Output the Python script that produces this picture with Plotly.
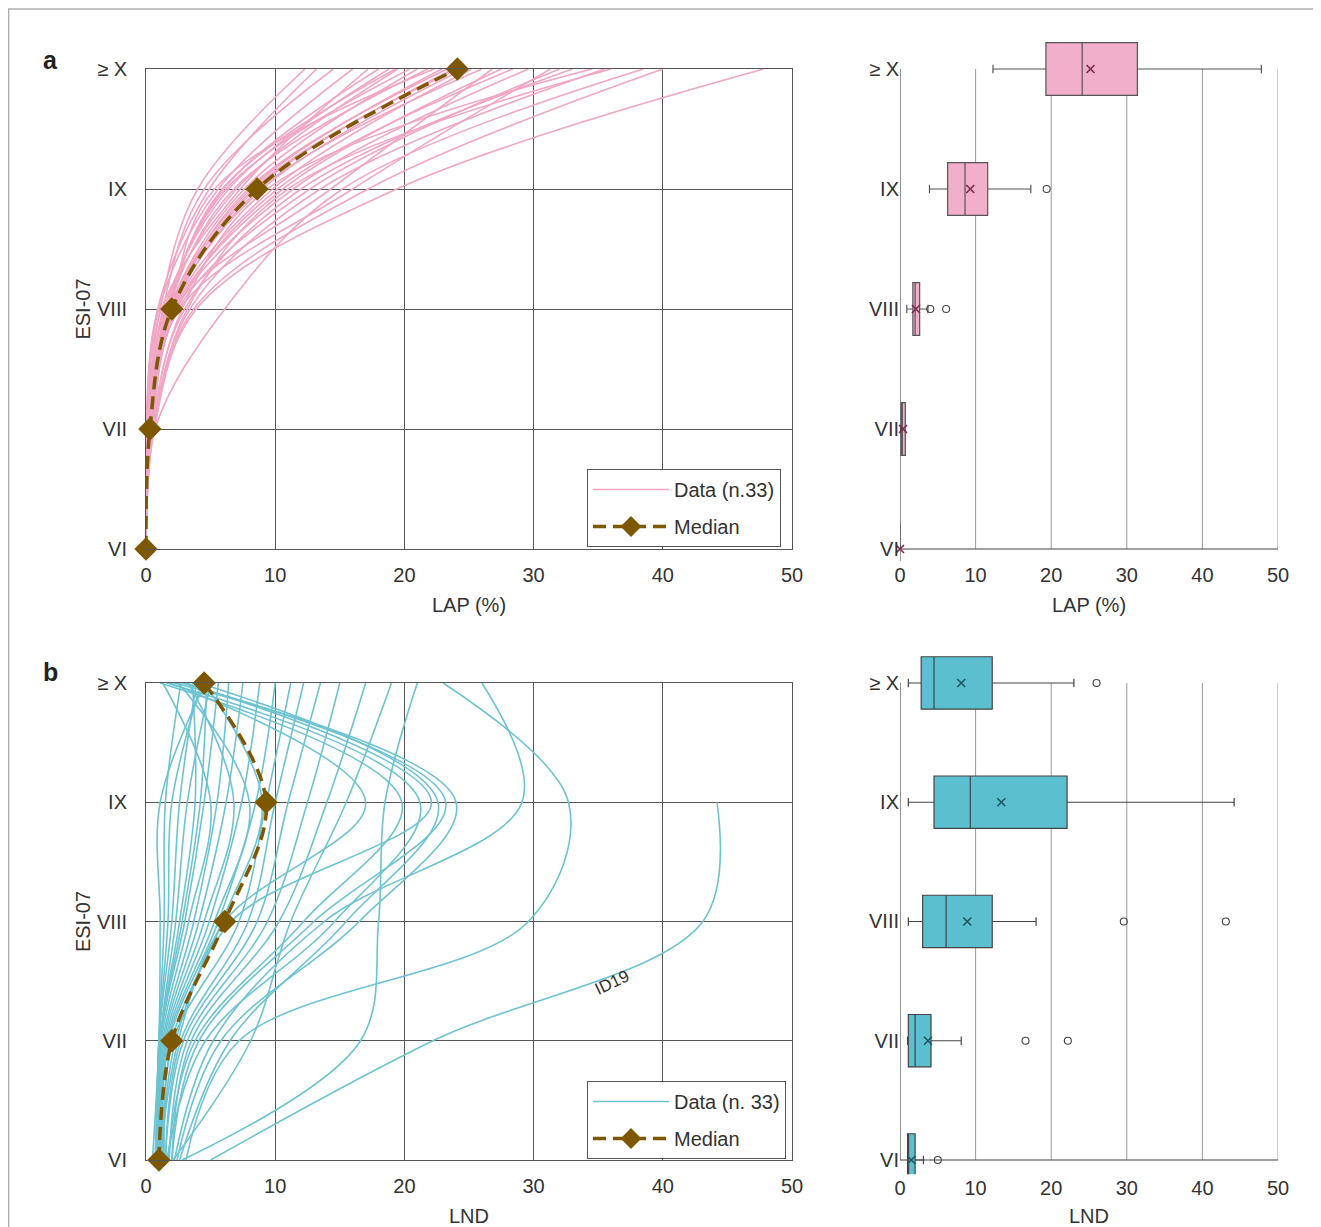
import plotly.graph_objects as go

# ---------------- data ----------------
level_labels = ['VI', 'VII', 'VIII', 'IX', '≥ X']
level_pos = [0, 1, 2, 3, 4]

# LAP (%) per curve at each ESI-07 level (index = event)
lap_VI = [0.0, 0.0, 0.0, 0.0, 0.0, 0.0, 0.0, 0.0, 0.0, 0.0, 0.0, 0.0, 0.0, 0.0, 0.0, 0.0, 0.0,
          0.0, 0.0, 0.0, 0.0, 0.0, 0.0, 0.0, 0.0, 0.0, 0.0, 0.0, 0.0, 0.0, 0.0, 0.0, 0.0]
lap_VII = [0.05, 0.0, 0.1, 0.0, 0.1, 0.2, 0.1, 0.2, 0.15, 0.2, 0.25, 0.2, 0.3, 0.25, 0.3, 0.3, 0.3,
           0.3, 0.35, 0.35, 0.4, 0.4, 0.45, 0.4, 0.5, 0.45, 0.5, 0.5, 0.6, 0.55, 0.7, 0.6, 0.65]
lap_VIII = [1.1, 0.9, 1.3, 1.0, 1.2, 1.6, 1.4, 1.7, 1.5, 1.6, 1.8, 1.7, 1.9, 1.8, 2.0, 1.9, 2.0,
            2.0, 2.1, 2.1, 2.2, 2.2, 2.4, 2.3, 2.6, 2.5, 3.0, 2.8, 3.4, 3.2, 6.1, 3.7, 3.9]
lap_IX = [4.0, 4.9, 4.5, 5.6, 7.3, 6.0, 6.4, 5.9, 7.0, 6.2, 7.6, 6.8, 5.3, 8.1, 7.9, 8.5, 8.3,
          9.0, 9.8, 8.8, 14.3, 10.6, 10.2, 11.4, 16.0, 12.7, 12.0, 9.4, 13.5, 11.0, 15.2, 17.2, 19.4]
lap_X = [12.3, 13.2, 14.5, 16.0, 17.2, 18.0, 18.8, 19.3, 19.5, 20.4, 21.0, 21.8, 22.3, 22.9, 23.3, 23.8, 24.1,
         24.6, 25.2, 26.0, 26.8, 27.5, 28.4, 29.6, 31.3, 32.0, 33.0, 34.5, 35.5, 36.0, 38.5, 40.0, 47.8]

# LND per curve at each level (first curve = ID19, no value at >= X)
lnd_VI = [5.0, 3.1, 2.2, 2.8, 2.4, 1.6, 2.0, 1.7, 2.6, 1.3, 1.1, 2.1, 2.0, 1.8, 1.5, 1.5, 1.4,
          1.4, 1.3, 1.3, 1.2, 1.2, 1.2, 1.1, 1.1, 1.1, 1.0, 1.0, 1.0, 0.9, 0.8, 0.7, 0.5]
lnd_VII = [22.2, 7.2, 5.2, 16.6, 5.8, 4.6, 4.1, 3.8, 6.5, 2.3, 2.5, 8.1, 3.5, 3.2, 2.9, 2.7, 2.1,
           2.0, 1.8, 1.7, 1.6, 1.5, 1.4, 1.3, 1.2, 1.1, 1.1, 1.1, 1.1, 1.0, 1.0, 1.0, 1.0]
lnd_VIII = [43.1, 29.6, 13.8, 18.0, 16.5, 14.6, 13.0, 12.2, 15.5, 6.6, 6.1, 11.2, 10.3, 9.4, 8.6, 7.9, 7.2,
            5.9, 5.6, 5.3, 4.9, 4.5, 4.1, 3.7, 3.3, 3.0, 2.8, 2.6, 2.3, 2.0, 1.7, 1.4, 1.1]
lnd_IX = [44.2, 32.7, 29.1, 18.5, 24.0, 21.2, 23.2, 19.8, 22.6, 22.1, 17.0, 15.5, 14.0, 12.5, 11.0, 10.0, 9.3,
          9.0, 8.5, 8.0, 7.4, 6.8, 6.2, 5.5, 5.0, 4.5, 4.2, 3.8, 3.2, 2.6, 2.0, 1.5, 1.1]
lnd_X = [None, 23.0, 26.0, 21.0, 2.2, 1.6, 2.8, 1.1, 4.1, 3.0, 1.9, 19.0, 17.0, 15.0, 13.5, 12.2, 11.2,
         4.5, 10.0, 2.5, 8.8, 3.3, 7.5, 6.4, 1.3, 5.6, 4.7, 3.6, 5.0, 3.9, 4.3, 2.7, 4.6]

# box statistics (order VI, VII, VIII, IX, >= X)
lap_lowerfence = [0.0, 0.0, 0.9, 3.9, 12.3]
lap_q1 = [0.0, 0.15, 1.7, 6.3, 19.3]
lap_median = [0.0, 0.3, 2.0, 8.6, 24.1]
lap_q3 = [0.0, 0.7, 2.6, 11.6, 31.4]
lap_upperfence = [0.0, 0.7, 3.7, 17.3, 47.8]
lap_mean = [0.0, 0.4, 2.1, 9.3, 25.2]
lap_out_x = [4.0, 6.1, 19.4]
lap_out_y = [2, 2, 3]

lnd_lowerfence = [1.0, 1.0, 1.1, 1.1, 1.1]
lnd_q1 = [1.0, 1.1, 3.0, 4.5, 2.8]
lnd_median = [1.0, 2.0, 6.1, 9.3, 4.5]
lnd_q3 = [2.0, 4.1, 12.2, 22.1, 12.2]
lnd_upperfence = [3.1, 8.1, 18.0, 44.2, 23.0]
lnd_mean = [1.5, 3.7, 8.9, 13.4, 8.1]
lnd_out_x = [5.0, 16.6, 22.2, 29.6, 43.1, 26.0]
lnd_out_y = [0, 1, 1, 2, 2, 4]

x_ticks = [0, 10, 20, 30, 40, 50]

# ---------------- style ----------------
OFF = 8                      # page body margin of the html page
W, H = 1321 - OFF, 1227 - OFF
FONT = 'Arial, Liberation Sans, sans-serif'
TXT = '#333333'
PINK_LINE = '#f0a6c4'
PINK_BOX = '#f2afcb'
CYAN_LINE = '#6cc3d1'
CYAN_BOX = '#5cbfcf'
MED = '#7d5800'
GRID = '#555555'


def px_x(p):
    return (p - OFF) / W


def px_y(p):
    return 1 - (p - OFF) / H


fig = go.Figure()

# ---- panel a: LAP curves ----
for i in range(len(lap_X)):
    fig.add_trace(go.Scatter(
        x=[lap_VI[i], lap_VII[i], lap_VIII[i], lap_IX[i], lap_X[i]], y=level_pos,
        mode='lines', line=dict(color=PINK_LINE, width=1.6, shape='spline', smoothing=1),
        name='Data (n.33)', showlegend=(i == 0), legend='legend', legendgroup='data',
        xaxis='x', yaxis='y', hoverinfo='skip'))
fig.add_trace(go.Scatter(
    x=lap_median, y=level_pos, mode='lines+markers', name='Median', legend='legend',
    legendgroup='median',
    line=dict(color=MED, width=3.5, dash='13px,7px', shape='spline'),
    marker=dict(symbol='diamond', size=18, color=MED),
    cliponaxis=False, xaxis='x', yaxis='y'))

# ---- panel a: LAP boxes ----
fig.add_trace(go.Box(
    y=level_pos, q1=lap_q1, median=lap_median, q3=lap_q3,
    lowerfence=lap_lowerfence, upperfence=lap_upperfence,
    orientation='h', width=0.44, whiskerwidth=0.16, boxpoints=False,
    fillcolor=PINK_BOX, line=dict(color='#555555', width=1.2),
    showlegend=False, xaxis='x2', yaxis='y2'))
fig.add_trace(go.Scatter(
    x=lap_mean, y=level_pos, mode='markers', showlegend=False,
    marker=dict(symbol='x-thin-open', size=8, color='#7a2848', line=dict(color='#7a2848', width=1.6)),
    cliponaxis=False, xaxis='x2', yaxis='y2'))
fig.add_trace(go.Scatter(
    x=lap_out_x, y=lap_out_y, mode='markers', showlegend=False,
    marker=dict(symbol='circle-open', size=7, color='#444444', line=dict(width=1.1)),
    cliponaxis=False, xaxis='x2', yaxis='y2'))

# ---- panel b: LND curves ----
for i in range(len(lnd_X)):
    fig.add_trace(go.Scatter(
        x=[lnd_VI[i], lnd_VII[i], lnd_VIII[i], lnd_IX[i], lnd_X[i]], y=level_pos,
        mode='lines', line=dict(color=CYAN_LINE, width=1.6, shape='spline', smoothing=1),
        name='Data (n. 33)', showlegend=(i == 0), legend='legend2', legendgroup='data2',
        xaxis='x3', yaxis='y3', hoverinfo='skip'))
fig.add_trace(go.Scatter(
    x=lnd_median, y=level_pos, mode='lines+markers', name='Median', legend='legend2',
    legendgroup='median2',
    line=dict(color=MED, width=3.5, dash='13px,7px', shape='spline'),
    marker=dict(symbol='diamond', size=18, color=MED),
    cliponaxis=False, xaxis='x3', yaxis='y3'))

# ---- panel b: LND boxes ----
fig.add_trace(go.Box(
    y=level_pos, q1=lnd_q1, median=lnd_median, q3=lnd_q3,
    lowerfence=lnd_lowerfence, upperfence=lnd_upperfence,
    orientation='h', width=0.44, whiskerwidth=0.16, boxpoints=False,
    fillcolor=CYAN_BOX, line=dict(color='#444444', width=1.2),
    showlegend=False, xaxis='x4', yaxis='y4'))
fig.add_trace(go.Scatter(
    x=lnd_mean, y=level_pos, mode='markers', showlegend=False,
    marker=dict(symbol='x-thin-open', size=8, color='#1d5560', line=dict(color='#1d5560', width=1.6)),
    cliponaxis=False, xaxis='x4', yaxis='y4'))
fig.add_trace(go.Scatter(
    x=lnd_out_x, y=lnd_out_y, mode='markers', showlegend=False,
    marker=dict(symbol='circle-open', size=7, color='#444444', line=dict(width=1.1)),
    cliponaxis=False, xaxis='x4', yaxis='y4'))

# ---------------- axes ----------------
left_dom = [px_x(146), px_x(792)]
right_dom = [px_x(900), px_x(1278)]
TITLE_FONT = dict(size=20, color=TXT, family=FONT)

common_x_left = dict(range=[0, 50], tickvals=x_ticks, showgrid=True, gridcolor=GRID, gridwidth=1,
                     zeroline=False, showline=True, linecolor=GRID, linewidth=1, mirror=True,
                     ticks='outside', ticklen=8, tickcolor='rgba(0,0,0,0)', automargin=False,
                     tickfont=dict(size=20, color=TXT, family=FONT), domain=left_dom)
common_y_left = dict(range=[0, 4], tickvals=level_pos, ticktext=level_labels, showgrid=True,
                     gridcolor=GRID, gridwidth=1, zeroline=False, showline=True, linecolor=GRID,
                     linewidth=1, mirror=True, ticks='outside', ticklen=14, tickcolor='rgba(0,0,0,0)',
                     automargin=False, tickfont=dict(size=20, color=TXT, family=FONT),
                     title=dict(text='ESI-07', font=TITLE_FONT, standoff=0))
common_x_right = dict(range=[0, 50], tickvals=x_ticks, showgrid=False, zeroline=False, showline=False,
                      ticks='', automargin=False,
                      tickfont=dict(size=20, color=TXT, family=FONT), domain=right_dom)
common_y_right = dict(tickvals=level_pos, ticktext=level_labels, showgrid=False, zeroline=False,
                      showline=False, ticks='', automargin=False,
                      tickfont=dict(size=20, color=TXT, family=FONT))

fig.update_layout(
    xaxis=dict(common_x_left, anchor='y', title=dict(text='LAP (%)', font=TITLE_FONT, standoff=12)),
    yaxis=dict(common_y_left, anchor='x', domain=[px_y(549), px_y(69)]),
    xaxis2=dict(common_x_right, anchor='y2', title=dict(text='LAP (%)', font=TITLE_FONT, standoff=12)),
    yaxis2=dict(common_y_right, anchor='x2', range=[-0.1, 4.3], domain=[px_y(561), px_y(33)]),
    xaxis3=dict(common_x_left, anchor='y3', title=dict(text='LND', font=TITLE_FONT, standoff=12)),
    yaxis3=dict(common_y_left, anchor='x3', domain=[px_y(1160), px_y(683)]),
    xaxis4=dict(common_x_right, anchor='y4', title=dict(text='LND', font=TITLE_FONT, standoff=12)),
    yaxis4=dict(common_y_right, anchor='x4', range=[-0.12, 4.3],
                domain=[px_y(1174.3), px_y(647.2)]),
)

# right-panel frame (left axis, bottom axis, vertical grid) only between VI and >= X
shapes = []
for xr, yr in (('x2', 'y2'), ('x4', 'y4')):
    for gx in x_ticks[1:]:
        shapes.append(dict(type='line', xref=xr, yref=yr, x0=gx, x1=gx, y0=0, y1=4,
                           line=dict(color='#9a9a9a', width=1), layer='below'))
    shapes.append(dict(type='line', xref=xr, yref=yr, x0=0, x1=0, y0=0, y1=4,
                       line=dict(color='#444444', width=1.2), layer='below'))
    shapes.append(dict(type='line', xref=xr, yref=yr, x0=0, x1=50, y0=0, y1=0,
                       line=dict(color='#444444', width=1.2), layer='below'))
# thin outer frame of the figure
shapes.append(dict(type='line', xref='paper', yref='paper', x0=0, x1=1, y0=px_y(9), y1=px_y(9),
                   line=dict(color='#b0b0b0', width=1.5)))
shapes.append(dict(type='line', xref='paper', yref='paper', x0=0.0005, x1=0.0005, y0=0, y1=px_y(9),
                   line=dict(color='#b0b0b0', width=1.5)))

legend_style = dict(bgcolor='white', bordercolor='#555555', borderwidth=1,
                    font=dict(size=20, color=TXT, family=FONT), itemwidth=76,
                    xanchor='left', yanchor='top', traceorder='grouped', tracegroupgap=8)

fig.update_layout(
    width=W, height=H, autosize=False,
    margin=dict(l=0, r=0, t=0, b=0, pad=0),
    paper_bgcolor='white', plot_bgcolor='white',
    font=dict(family=FONT, color=TXT),
    shapes=shapes,
    legend=dict(legend_style, x=px_x(587), y=px_y(469)),
    legend2=dict(legend_style, x=px_x(587), y=px_y(1081)),
    annotations=[
        dict(text='<b>a</b>', x=px_x(50), y=px_y(60), xref='paper', yref='paper', showarrow=False,
             xanchor='center', yanchor='middle', font=dict(size=25, color='#222222', family=FONT)),
        dict(text='<b>b</b>', x=px_x(50), y=px_y(672), xref='paper', yref='paper', showarrow=False,
             xanchor='center', yanchor='middle', font=dict(size=25, color='#222222', family=FONT)),
        dict(text='ID19', x=36.1, y=1.49, xref='x3', yref='y3', showarrow=False, textangle=-25,
             font=dict(size=17, color=TXT, family=FONT)),
    ],
)

fig.write_html('out.html')
